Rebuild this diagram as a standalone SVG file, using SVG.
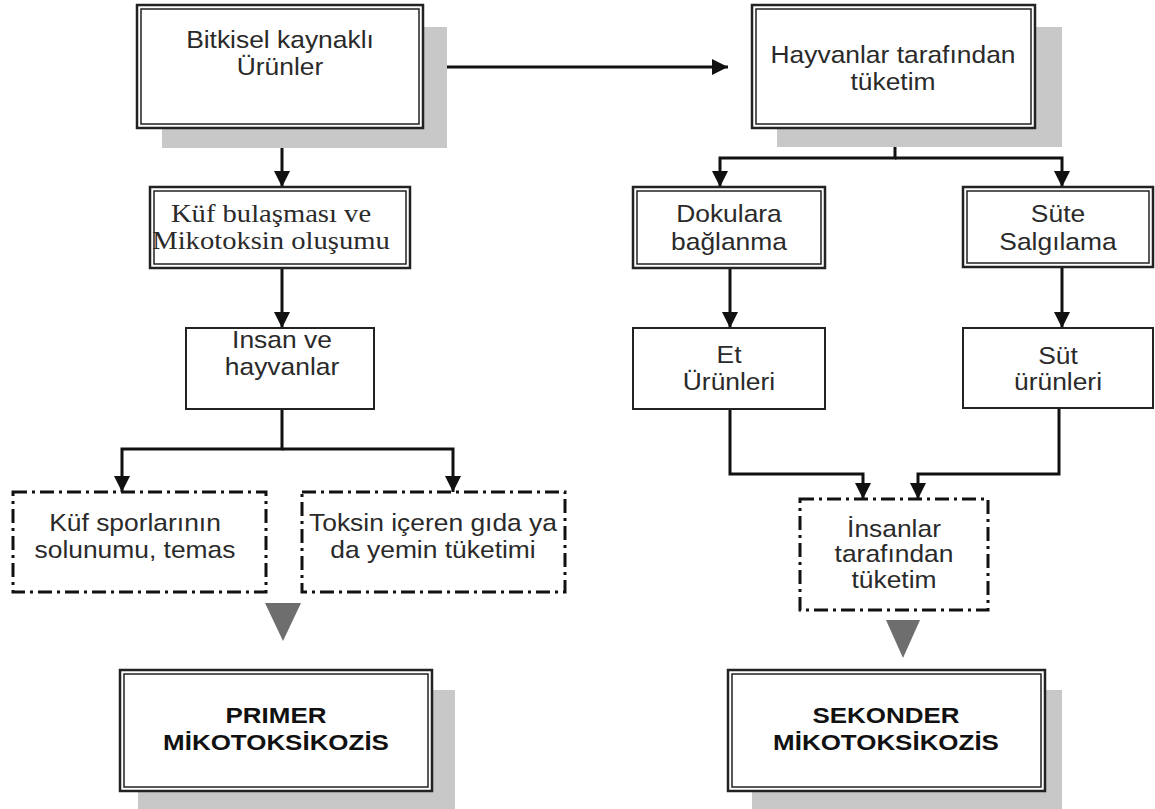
<svg xmlns="http://www.w3.org/2000/svg" width="1155" height="809" viewBox="0 0 1155 809">
<style>
.bg{fill:#ffffff}
.sh{fill:#c8c8c8}
.o{fill:#ffffff;stroke:#222;stroke-width:2.5}
.i{fill:none;stroke:#222;stroke-width:1.5}
.s{fill:#ffffff;stroke:#222;stroke-width:2}
.d{fill:#ffffff;stroke:#111;stroke-width:3;stroke-dasharray:14 5 3 5}
.c{fill:none;stroke:#111;stroke-width:3}
.tri{fill:#6e6e6e}
.t{font-family:"Liberation Sans",Arial,sans-serif;font-size:24px;fill:#2a2a2a;text-anchor:middle}
.tr{font-family:"Liberation Serif","Times New Roman",serif;font-size:26px;fill:#2a2a2a;text-anchor:middle}
.tb{font-family:"Liberation Sans",Arial,sans-serif;font-size:22px;font-weight:bold;fill:#111;text-anchor:middle}
</style>
<defs>
<marker id="ah" viewBox="0 0 10 10" refX="10" refY="5" markerWidth="16" markerHeight="16" markerUnits="userSpaceOnUse" orient="auto">
<path d="M0,0 L10,5 L0,10 z" fill="#111"/>
</marker>
</defs>
<rect class="bg" x="0" y="0" width="1155" height="809"/>

<g id="connectors">
<path class="c" d="M282,128 V187" marker-end="url(#ah)"/>
<path class="c" d="M282,268 V328" marker-end="url(#ah)"/>
<path class="c" d="M282,409 V449 H122 V492" marker-end="url(#ah)"/>
<path class="c" d="M282,449 H453 V492" marker-end="url(#ah)"/>
<path class="c" d="M445,67 H728" marker-end="url(#ah)"/>
<path class="c" d="M895,128 V158 H720 V187" marker-end="url(#ah)"/>
<path class="c" d="M895,158 H1062 V187" marker-end="url(#ah)"/>
<path class="c" d="M730,268 V328" marker-end="url(#ah)"/>
<path class="c" d="M1062,267 V328" marker-end="url(#ah)"/>
<path class="c" d="M730,409 V474 H863 V499" marker-end="url(#ah)"/>
<path class="c" d="M1059,408 V474 H918 V499" marker-end="url(#ah)"/>
<polygon class="tri" points="265,603 301,603 283,641"/>
<polygon class="tri" points="886,620 920,620 903,658"/>
</g>

<g id="n-bitkisel">
<rect class="sh" x="162" y="27" width="285" height="121"/>
<rect class="o" x="137" y="5" width="286" height="123"/>
<rect class="i" x="141" y="9" width="278" height="115"/>
<text class="t" transform="translate(280 48) scale(1.1 1)">Bitkisel kaynaklı</text>
<text class="t" transform="translate(280 75) scale(1.1 1)">Ürünler</text>
</g>

<g id="n-kuf">
<rect class="o" x="150" y="187" width="260" height="81"/>
<rect class="i" x="154" y="191" width="252" height="73"/>
<text class="tr" transform="translate(271 222) scale(1.1 1)">Küf bulaşması ve</text>
<text class="tr" transform="translate(271 249) scale(1.1 1)">Mikotoksin oluşumu</text>
</g>

<g id="n-insan">
<rect class="s" x="186" y="328" width="188" height="81"/>
<text class="t" transform="translate(282 348) scale(1.1 1)">İnsan ve</text>
<text class="t" transform="translate(282 375) scale(1.1 1)">hayvanlar</text>
</g>

<g id="n-spor">
<rect class="d" x="13" y="492" width="253" height="100"/>
<text class="t" transform="translate(135 531) scale(1.1 1)">Küf sporlarının</text>
<text class="t" transform="translate(135 558) scale(1.1 1)">solunumu, temas</text>
</g>

<g id="n-toksin">
<rect class="d" x="302" y="492" width="263" height="100"/>
<text class="t" transform="translate(433 531) scale(1.1 1)">Toksin içeren gıda ya</text>
<text class="t" transform="translate(433 558) scale(1.1 1)">da yemin tüketimi</text>
</g>

<g id="n-primer">
<rect class="sh" x="138" y="690" width="317" height="125"/>
<rect class="o" x="120" y="670" width="312" height="121"/>
<rect class="i" x="124" y="674" width="304" height="113"/>
<text class="tb" transform="translate(276 723) scale(1.18 1)">PRIMER</text>
<text class="tb" transform="translate(276 750) scale(1.18 1)">MİKOTOKSİKOZİS</text>
</g>

<g id="n-hayvan">
<rect class="sh" x="777" y="27" width="285" height="120"/>
<rect class="o" x="752" y="5" width="283" height="123"/>
<rect class="i" x="756" y="9" width="275" height="115"/>
<text class="t" transform="translate(893 63) scale(1.1 1)">Hayvanlar tarafından</text>
<text class="t" transform="translate(893 90) scale(1.1 1)">tüketim</text>
</g>

<g id="n-doku">
<rect class="o" x="633" y="187" width="192" height="81"/>
<rect class="i" x="637" y="191" width="184" height="73"/>
<text class="t" transform="translate(729 222) scale(1.1 1)">Dokulara</text>
<text class="t" transform="translate(729 250) scale(1.1 1)">bağlanma</text>
</g>

<g id="n-sute">
<rect class="o" x="963" y="187" width="190" height="80"/>
<rect class="i" x="967" y="191" width="182" height="72"/>
<text class="t" transform="translate(1058 222) scale(1.1 1)">Süte</text>
<text class="t" transform="translate(1058 250) scale(1.1 1)">Salgılama</text>
</g>

<g id="n-et">
<rect class="s" x="633" y="328" width="192" height="81"/>
<text class="t" transform="translate(729 363) scale(1.1 1)">Et</text>
<text class="t" transform="translate(729 390) scale(1.1 1)">Ürünleri</text>
</g>

<g id="n-sut">
<rect class="s" x="963" y="328" width="190" height="80"/>
<text class="t" transform="translate(1058 364) scale(1.1 1)">Süt</text>
<text class="t" transform="translate(1058 390) scale(1.1 1)">ürünleri</text>
</g>

<g id="n-insanlar">
<rect class="d" x="800" y="499" width="188" height="111"/>
<text class="t" transform="translate(894 537) scale(1.1 1)">İnsanlar</text>
<text class="t" transform="translate(894 562) scale(1.1 1)">tarafından</text>
<text class="t" transform="translate(894 588) scale(1.1 1)">tüketim</text>
</g>

<g id="n-sekonder">
<rect class="sh" x="752" y="690" width="310" height="125"/>
<rect class="o" x="728" y="670" width="317" height="121"/>
<rect class="i" x="732" y="674" width="309" height="113"/>
<text class="tb" transform="translate(886 723) scale(1.18 1)">SEKONDER</text>
<text class="tb" transform="translate(886 750) scale(1.18 1)">MİKOTOKSİKOZİS</text>
</g>
</svg>
